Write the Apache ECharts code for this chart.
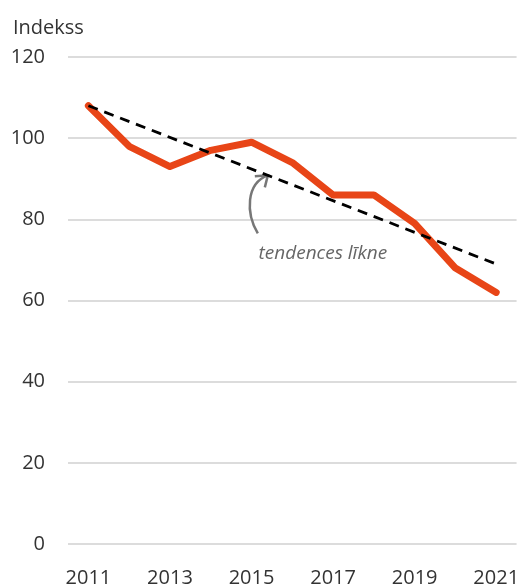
<!DOCTYPE html>
<html><head><meta charset="utf-8">
<script src="https://cdn.jsdelivr.net/npm/echarts@6/dist/echarts.min.js"></script>
<style>html,body{margin:0;padding:0;background:#fff}#c{width:522px;height:588px}</style>
</head><body><div id="c"></div>
<script>
const years = ['2011','2012','2013','2014','2015','2016','2017','2018','2019','2020','2021'];
const indexValues = [108, 98, 93, 97, 99, 94, 86, 86, 79, 68, 62];
const trendValues = [108, null, null, null, null, null, null, null, null, null, 69];
const yTicks = [0, 20, 40, 60, 80, 100, 120];
const yAxisTitle = 'Indekss';
const trendLabel = 'tendences līkne';

const FONT = '"Open Sans", "Noto Sans", sans-serif';
const chart = echarts.init(document.getElementById('c'));
chart.setOption({
  animation: false,
  title: { text: yAxisTitle, left: 8, top: 13,
    textStyle: { fontFamily: FONT, fontSize: 20, fontWeight: 'normal', color: '#333' } },
  grid: { left: 68, right: 4, top: 57, bottom: 44, containLabel: false },
  xAxis: {
    type: 'category', data: years, boundaryGap: true,
    axisLine: { show: false }, axisTick: { show: false },
    axisLabel: { interval: 1, margin: 24, fontFamily: FONT, fontSize: 20, color: '#333' }
  },
  yAxis: {
    type: 'value', min: yTicks[0], max: yTicks[yTicks.length - 1], interval: 20,
    axisLine: { show: false }, axisTick: { show: false },
    axisLabel: { margin: 23, fontFamily: FONT, fontSize: 20, color: '#333' },
    splitLine: { lineStyle: { color: '#dcdcdc', width: 2 } }
  },
  series: [
    { type: 'line', data: indexValues, symbol: 'none', z: 2,
      lineStyle: { color: '#E84517', width: 7, cap: 'round', join: 'round' } },
    { type: 'line', data: trendValues, connectNulls: true, symbol: 'none', z: 3,
      lineStyle: { color: '#000', width: 2.8, type: [10, 7] } }
  ]
});

// annotation anchored to the trend line through data coordinates
const f = 0.44;
const p0 = chart.convertToPixel({ seriesIndex: 1 }, [0, 108]);
const p1 = chart.convertToPixel({ seriesIndex: 1 }, [10, 69]);
const tx = p0[0] + (p1[0] - p0[0]) * f, ty = p0[1] + (p1[1] - p0[1]) * f;
chart.setOption({
  graphic: [
    { type: 'bezierCurve', shape: { x1: tx - 10, y1: ty + 58, cpx1: tx - 22, cpy1: ty + 38, cpx2: tx - 22, cpy2: ty + 8, x2: tx, y2: ty },
      style: { stroke: '#777', lineWidth: 2.5, fill: null } },
    { type: 'polyline', shape: { points: [[tx - 13, ty + 1], [tx, ty], [tx - 3, ty + 12]] },
      style: { stroke: '#777', lineWidth: 2.5, fill: null } },
    { type: 'text', x: tx + 55, y: ty + 78,
      style: { text: trendLabel, fontFamily: FONT, fontSize: 19, fontStyle: 'italic', fill: '#666', align: 'center', verticalAlign: 'middle' } }
  ]
});
</script></body></html>
